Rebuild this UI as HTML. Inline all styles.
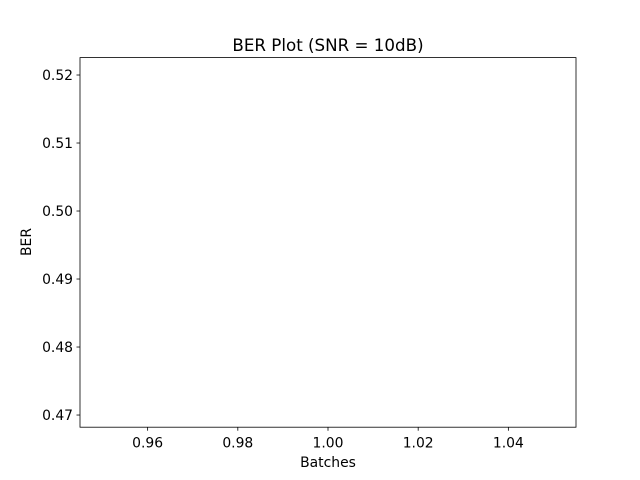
<!DOCTYPE html>
<html><head><meta charset="utf-8">
<style>
html,body{margin:0;padding:0;background:#fff;}
svg{display:block;font-family:"DejaVu Sans","Liberation Sans",sans-serif;}
</style></head>
<body>
<svg id="chart" width="640" height="480" viewBox="0 0 640 480">
<rect width="640" height="480" fill="#fff"/>
<text x="328" y="51" font-size="16.7" text-anchor="middle" fill="#000">BER Plot (SNR = 10dB)</text>
<text x="328" y="467" font-size="13.9" text-anchor="middle" fill="#000">Batches</text>
<text x="31" y="242" font-size="13.9" text-anchor="middle" fill="#000" transform="rotate(-90 31 242)">BER</text>
<g id="xticks"></g>
<g id="yticks"></g>
<g id="series"></g>
<rect x="80" y="57.6" width="496" height="369.6" fill="none" stroke="#000" stroke-width="0.8"/>
</svg>
<script>
const xTicks = [0.96, 0.98, 1.00, 1.02, 1.04];
const xTickLabels = ["0.96", "0.98", "1.00", "1.02", "1.04"];
const yTicks = [0.47, 0.48, 0.49, 0.50, 0.51, 0.52];
const yTickLabels = ["0.47", "0.48", "0.49", "0.50", "0.51", "0.52"];
const batches = [];
const berValues = [];
const xDomain = [0.945, 1.055];
const yDomain = [0.46821, 0.52256];

const L = 80, R = 576, T = 57.6, B = 427.2;
const NS = "http://www.w3.org/2000/svg";
function sx(v){ return L + (v - xDomain[0]) / (xDomain[1] - xDomain[0]) * (R - L); }
function sy(v){ return B - (v - yDomain[0]) / (yDomain[1] - yDomain[0]) * (B - T); }
function mk(tag, attrs){ const e = document.createElementNS(NS, tag); for (const k in attrs) e.setAttribute(k, attrs[k]); return e; }

const gx = document.getElementById('xticks');
xTicks.forEach((v, i) => {
  const x = sx(v);
  const ln = mk('line', {x1: x, x2: x, y1: B, y2: B + 3.5, stroke: '#000', 'stroke-width': 0.8});
  
  
  gx.appendChild(ln);
  const t = mk('text', {x: x, y: B + 20.5, 'font-size': 13.9, 'text-anchor': 'middle', fill: '#000'});
  t.textContent = xTickLabels[i];
  
  
  gx.appendChild(t);
});

const gy = document.getElementById('yticks');
yTicks.forEach((v, i) => {
  const y = sy(v);
  const ln = mk('line', {x1: L - 3.5, x2: L, y1: y, y2: y, stroke: '#000', 'stroke-width': 0.8});
  
  
  gy.appendChild(ln);
  const t = mk('text', {x: L - 7, y: y + 5, 'font-size': 13.9, 'text-anchor': 'end', fill: '#000'});
  t.textContent = yTickLabels[i];
  
  
  gy.appendChild(t);
});

const gs = document.getElementById('series');
if (batches.length > 1) {
  const pts = batches.map((b, i) => sx(b) + ',' + sy(berValues[i])).join(' ');
  const pl = mk('polyline', {points: pts, fill: 'none', stroke: '#1f77b4', 'stroke-width': 1.5});
  
  
  gs.appendChild(pl);
}
</script>
</body></html>
